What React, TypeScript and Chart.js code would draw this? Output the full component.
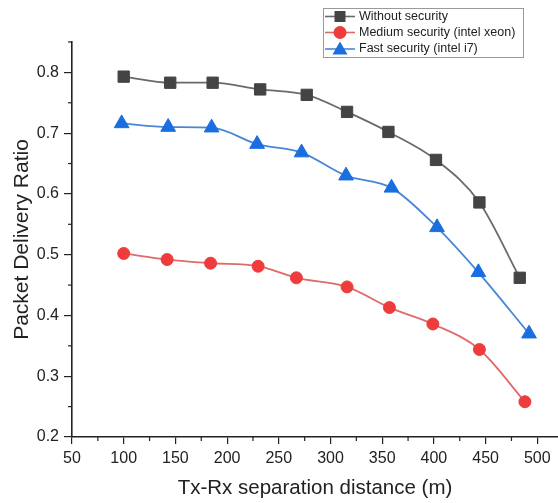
import React, { useEffect, useRef } from "react";
import { Chart, registerables } from "chart.js";

Chart.register(...registerables);

const seriesLabels = [
  "Without security",
  "Medium security (intel xeon)",
  "Fast security (intel i7)",
];

const noSecX = [100, 145, 186, 232, 277, 316, 356, 402, 444, 483];
const noSecY = [0.793, 0.783, 0.783, 0.772, 0.763, 0.735, 0.702, 0.656, 0.586, 0.462];

const mediumX = [100, 142, 184, 230, 267, 316, 357, 399, 444, 488];
const mediumY = [0.502, 0.492, 0.486, 0.481, 0.462, 0.447, 0.413, 0.386, 0.344, 0.258];

const fastX = [98, 143, 185, 229, 272, 315, 359, 403, 443, 492];
const fastY = [0.716, 0.71, 0.709, 0.682, 0.668, 0.63, 0.61, 0.545, 0.471, 0.37];

const xTitle = "Tx-Rx separation distance (m)";
const yTitle = "Packet Delivery Ratio";

const FONT = "'Liberation Sans', Arial, sans-serif";

const toPts = (xs: number[], ys: number[]) => xs.map((x, i) => ({ x, y: ys[i] }));

const minorTicks = {
  id: "minorTicks",
  afterDraw(chart: any) {
    const ctx = chart.ctx;
    const xs = chart.scales.x;
    const ys = chart.scales.y;
    ctx.save();
    ctx.strokeStyle = "#222";
    ctx.lineWidth = 1.2;
    for (let v = 75; v <= 520; v += 50) {
      const px = xs.getPixelForValue(v);
      ctx.beginPath();
      ctx.moveTo(px, xs.top);
      ctx.lineTo(px, xs.top + 4);
      ctx.stroke();
    }
    for (let v = 0.25; v <= 0.851; v += 0.1) {
      const py = ys.getPixelForValue(v);
      ctx.beginPath();
      ctx.moveTo(ys.right, py);
      ctx.lineTo(ys.right - 4, py);
      ctx.stroke();
    }
    ctx.restore();
  },
};

const customLegend = {
  id: "customLegend",
  afterDraw(chart: any) {
    const ctx = chart.ctx;
    const left = 323, top = 8, w = 200, h = 49;
    ctx.save();
    ctx.fillStyle = "#fff";
    ctx.fillRect(left, top, w, h);
    ctx.strokeStyle = "#9a9a9a";
    ctx.lineWidth = 1;
    ctx.strokeRect(left + 0.5, top + 0.5, w, h);
    const rows = [16.5, 32.5, 49];
    chart.data.datasets.forEach((ds: any, i: number) => {
      const y = rows[i];
      ctx.strokeStyle = ds.borderColor;
      ctx.lineWidth = 1.6;
      ctx.beginPath();
      ctx.moveTo(325, y);
      ctx.lineTo(355, y);
      ctx.stroke();
      ctx.fillStyle = ds.pointBackgroundColor;
      const style = ds.pointStyle;
      ctx.beginPath();
      if (style === "rect") {
        ctx.rect(334.5, y - 5.5, 11, 11);
      } else if (style === "circle") {
        ctx.arc(340, y, 6.5, 0, Math.PI * 2);
      } else {
        ctx.moveTo(340, y - 7.5);
        ctx.lineTo(347.5, y + 5.5);
        ctx.lineTo(332.5, y + 5.5);
        ctx.closePath();
      }
      ctx.fill();
      ctx.fillStyle = "#222";
      ctx.font = `12.5px ${FONT}`;
      ctx.textBaseline = "middle";
      ctx.textAlign = "left";
      ctx.fillText(ds.label, 359, y);
    });
    ctx.restore();
  },
};

export default function App() {
  const ref = useRef<HTMLCanvasElement | null>(null);
  useEffect(() => {
    document.body.style.margin = "0";
    const canvas = ref.current!;
    const chart = new Chart(canvas, {
      type: "scatter",
      data: {
        datasets: [
          {
            label: seriesLabels[0],
            data: toPts(noSecX, noSecY),
            showLine: true,
            borderColor: "#6a6a6a",
            borderWidth: 1.8,
            pointStyle: "rect",
            pointRadius: 8,
            pointBackgroundColor: "#444444",
            pointBorderColor: "#444444",
            pointBorderWidth: 1,
            tension: 0.35,
            cubicInterpolationMode: "monotone",
          },
          {
            label: seriesLabels[1],
            data: toPts(mediumX, mediumY),
            showLine: true,
            borderColor: "#e06a6a",
            borderWidth: 1.8,
            pointStyle: "circle",
            pointRadius: 6,
            pointBackgroundColor: "#ee3b3b",
            pointBorderColor: "#ee3b3b",
            pointBorderWidth: 1,
            tension: 0.35,
            cubicInterpolationMode: "monotone",
          },
          {
            label: seriesLabels[2],
            data: toPts(fastX, fastY),
            showLine: true,
            borderColor: "#4a86d6",
            borderWidth: 1.8,
            pointStyle: "triangle",
            pointRadius: 8.5,
            pointBackgroundColor: "#1a6ee0",
            pointBorderColor: "#1a6ee0",
            pointBorderWidth: 1,
            tension: 0.35,
            cubicInterpolationMode: "monotone",
          },
        ],
      },
      options: {
        animation: false,
        responsive: false,
        clip: false as any,
        layout: { autoPadding: false, padding: { top: 42, right: 0, left: 0, bottom: 0 } },
        plugins: { legend: { display: false }, tooltip: { enabled: false } },
        scales: {
          x: {
            type: "linear",
            min: 50,
            max: 520,
            afterFit: (s: any) => {
              s.height = 66;
              s.paddingRight = 0;
              s.paddingLeft = 0;
            },
            ticks: {
              stepSize: 50,
              includeBounds: false,
              color: "#222",
              padding: 5,
              font: { size: 16, family: FONT },
              maxRotation: 0,
            },
            grid: {
              drawOnChartArea: false,
              drawTicks: true,
              tickLength: 7,
              color: "#222",
              lineWidth: 1.2,
            },
            border: { color: "#222", width: 1.6 },
            title: {
              display: true,
              text: xTitle,
              color: "#222",
              font: { size: 20.5, family: FONT },
              padding: { top: 0, bottom: 2 },
            },
          },
          y: {
            type: "linear",
            min: 0.2,
            max: 0.85,
            afterFit: (s: any) => {
              s.width = 72;
              s.paddingTop = 0;
              s.paddingBottom = 0;
            },
            ticks: {
              stepSize: 0.1,
              includeBounds: false,
              color: "#222",
              padding: 5,
              font: { size: 16, family: FONT },
              callback: (v: any) => Number(v).toFixed(1),
            },
            grid: {
              drawOnChartArea: false,
              drawTicks: true,
              tickLength: 8,
              color: "#222",
              lineWidth: 1.2,
            },
            border: { color: "#222", width: 1.6 },
            title: {
              display: true,
              text: yTitle,
              color: "#222",
              font: { size: 21, family: FONT },
              padding: { top: 10, bottom: 0 },
            },
          },
        },
      },
      plugins: [minorTicks, customLegend],
    });
    return () => chart.destroy();
  }, []);
  return (
    <div style={{ width: 558, height: 503 }}>
      <canvas ref={ref} width={558} height={503} style={{ display: "block" }} />
    </div>
  );
}
